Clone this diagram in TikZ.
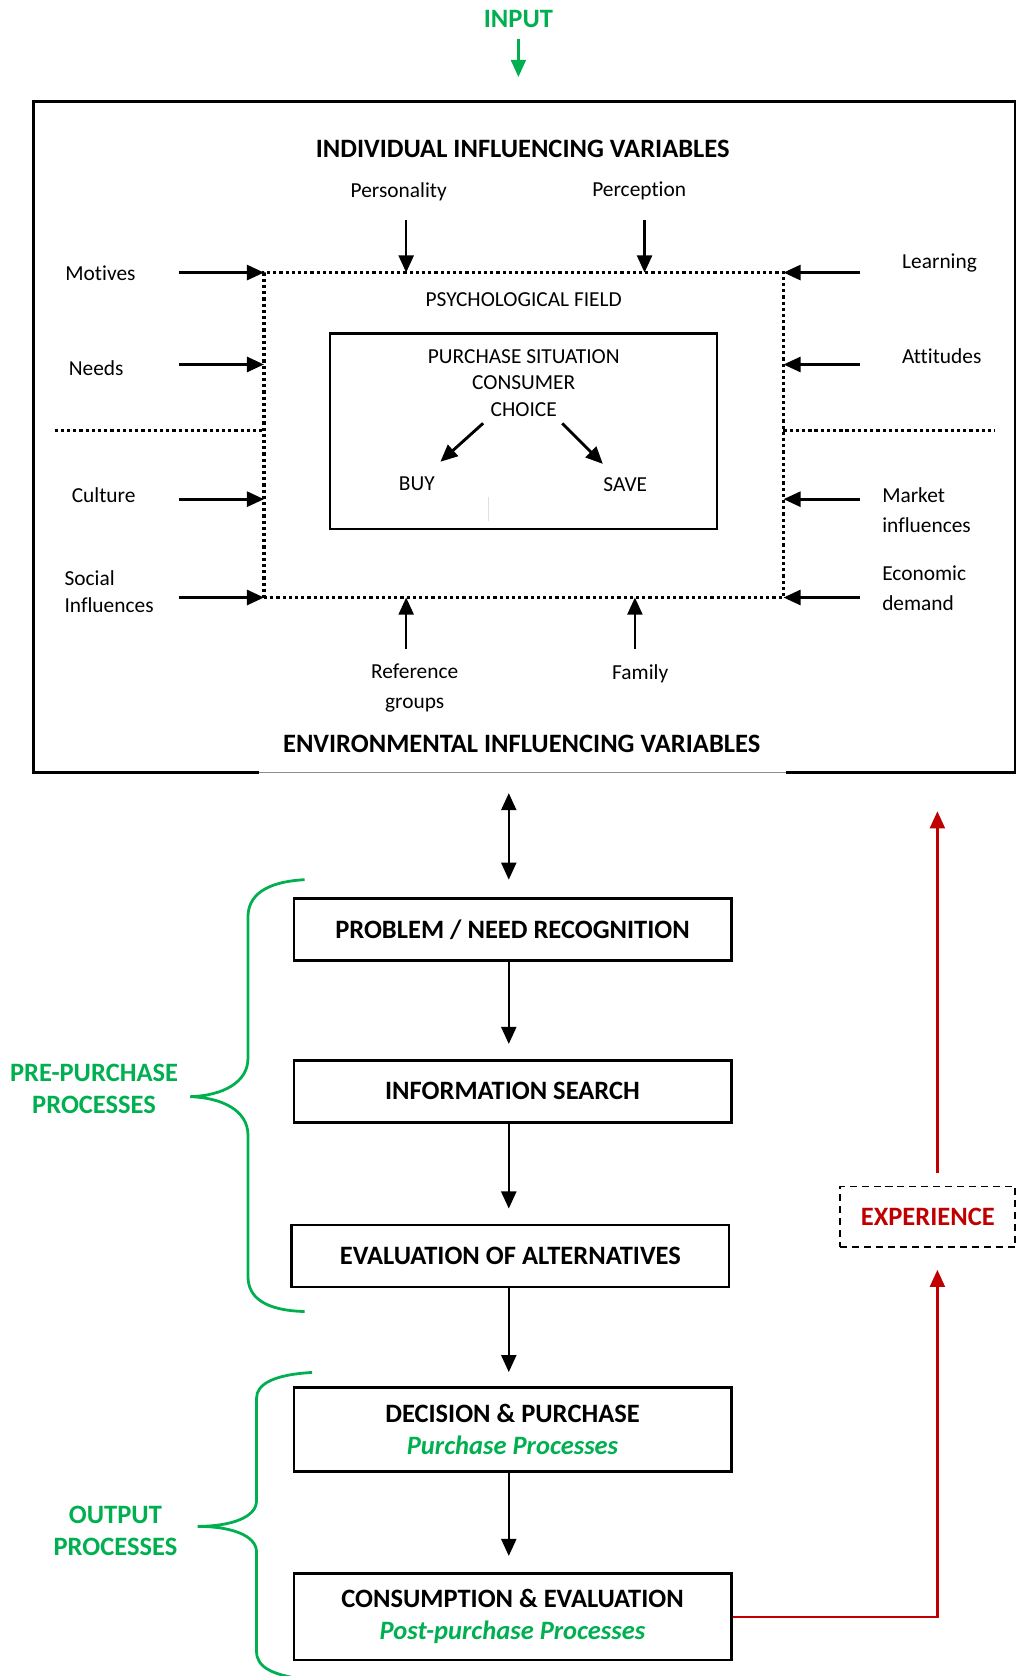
\documentclass[tikz,border=0pt]{standalone}
\usepackage{fontspec}
\setmainfont{Carlito}[Ligatures=NoCommon]
\usetikzlibrary{arrows.meta}
\definecolor{ogreen}{HTML}{00B050}
\definecolor{ored}{HTML}{C00000}
\begin{document}
\begin{tikzpicture}[x=0.5pt,y=-0.5pt,
 every node/.style={inner sep=0pt},
 reg/.style={font=\fontsize{10}{14}\selectfont, align=center},
 regl/.style={font=\fontsize{10}{14}\selectfont, align=left, anchor=west},
 hdr/.style={font=\fontsize{12.4}{15}\selectfont\bfseries, align=center},
 arr/.style={-{Triangle[length=8pt,width=7pt]}, line width=1.1pt},
 sarr/.style={-{Triangle[length=8pt,width=7pt]}, line width=1.35pt},
 darr/.style={{Triangle[length=8pt,width=7pt]}-{Triangle[length=8pt,width=7pt]}, line width=1.1pt},
 dotline/.style={line width=1.6pt, dash pattern=on 1.5pt off 1.4pt},
 procbox/.style={draw, line width=1.3pt, minimum width=204.5pt, font=\fontsize{12.4}{15}\selectfont\bfseries, align=center},
 brace/.style={draw=ogreen, line width=1.3pt},
 expbox/.style={draw, line width=0.9pt, dash pattern=on 3.3pt off 2.3pt, minimum width=82pt, minimum height=28.5pt, text=ored, font=\fontsize{12.4}{15}\selectfont\bfseries}
]
\useasboundingbox (0,0) rectangle (951,1568);
\clip (0,0) rectangle (951,1568);

% INPUT
\node[hdr, text=ogreen] (input) at (485,18) {INPUT};
\coordinate (inputtip) at (485,72);
\draw[arr, color=ogreen, shorten <=5pt] (input.south) -- (inputtip);

% outer box
\draw[line width=1.3pt] (242,723) -- (31,723) -- (31,95) -- (949.5,95) -- (949.5,723) -- (735,723);
\draw[black!45, line width=0.6pt] (242,723) -- (735,723);

\node[hdr] (ind) at (489,139) {INDIVIDUAL INFLUENCING VARIABLES};
\node[hdr] (env) at (488,696) {ENVIRONMENTAL INFLUENCING VARIABLES};

% psychological field (dotted)
\node[draw, dotline, minimum width=243pt, minimum height=152pt] (psy) at (490,407) {};
\node[reg] (pf) at (490,280) {PSYCHOLOGICAL FIELD};

% separators
\coordinate (sepL1) at (51,403); \coordinate (sepL2) at (247,403);
\coordinate (sepR1) at (733,403); \coordinate (sepR2) at (931,403);
\draw[dotline] (sepL1) -- (sepL2);
\draw[dotline] (sepR1) -- (sepR2);

% top labels and arrows
\node[reg] (pers) at (373,179) {Personality};
\node[reg] (perc) at (598,179) {Perception};
\coordinate (persA) at (380,206); \coordinate (persB) at (380,255);
\coordinate (percA) at (603,206); \coordinate (percB) at (603,255);
\draw[arr] (persA) -- (persB);
\draw[arr] (percA) -- (percB);

% bottom labels and arrows
\node[reg] (refg) at (388,644) {Reference\\groups};
\node[reg] (fam) at (599,630) {Family};
\coordinate (refA) at (380,607); \coordinate (refB) at (380,559);
\coordinate (famA) at (594,607); \coordinate (famB) at (594,559);
\draw[arr] (refA) -- (refB);
\draw[arr] (famA) -- (famB);

% left labels and arrows
\node[reg] (mot) at (94,256) {Motives};
\node[reg] (needs) at (90,344) {Needs};
\node[reg] (cult) at (97,463) {Culture};
\node[regl, font=\fontsize{10}{12.5}\selectfont] (soc) at (60,553.5) {Social\\Influences};
\coordinate (motA) at (167,255); \coordinate (motB) at (247,255);
\coordinate (needA) at (167,341); \coordinate (needB) at (247,341);
\coordinate (cultA) at (167,467); \coordinate (cultB) at (247,467);
\coordinate (socA) at (167,559); \coordinate (socB) at (247,559);
\draw[sarr] (motA) -- (motB);
\draw[sarr] (needA) -- (needB);
\draw[sarr] (cultA) -- (cultB);
\draw[sarr] (socA) -- (socB);

% right labels and arrows
\node[reg] (learn) at (879,246) {Learning};
\node[reg] (att) at (881,333) {Attitudes};
\node[regl] (mkt) at (825,477) {Market\\influences};
\node[regl] (eco) at (825,550) {Economic\\demand};
\coordinate (learnA) at (805,255); \coordinate (learnB) at (733,255);
\coordinate (attA) at (805,341); \coordinate (attB) at (733,341);
\coordinate (mktA) at (805,467); \coordinate (mktB) at (733,467);
\coordinate (ecoA) at (805,559); \coordinate (ecoB) at (733,559);
\draw[sarr] (learnA) -- (learnB);
\draw[sarr] (attA) -- (attB);
\draw[sarr] (mktA) -- (mktB);
\draw[sarr] (ecoA) -- (ecoB);

% inner box
\node[draw, line width=1.1pt, minimum width=181pt, minimum height=91.5pt] (inner) at (490,403.5) {};
\node[reg] (ps) at (490,334) {PURCHASE SITUATION};
\node[reg] (cons) at (490,358) {CONSUMER};
\node[reg] (choice) at (490,383) {CHOICE};
\node[reg] (buy) at (390,453) {BUY};
\node[reg] (save) at (585,453) {SAVE};
\coordinate (chL) at (452,396); \coordinate (buyT) at (412,432);
\coordinate (chR) at (526,396); \coordinate (saveT) at (564,434);
\draw[sarr] (chL) -- (buyT);
\draw[sarr] (chR) -- (saveT);
\draw[black!12, line width=0.5pt] (457,465) -- (457,487);

% double arrow
\coordinate (da1) at (476,742); \coordinate (da2) at (476,823);
\draw[darr] (da1) -- (da2);

% process boxes
\node[procbox, minimum height=29pt] (b1) at (479.5,869.5) {PROBLEM / NEED RECOGNITION};
\node[procbox, minimum height=29pt] (b2) at (479.5,1021) {INFORMATION SEARCH};
\node[procbox, minimum height=29pt] (b3) at (477.5,1175) {EVALUATION OF ALTERNATIVES};
\node[procbox, minimum height=39.5pt] (b4) at (479.5,1337.5) {DECISION \& PURCHASE\\{\color{ogreen}\itshape Purchase Processes}};
\node[procbox, minimum height=40.5pt] (b5) at (479.5,1512.5) {CONSUMPTION \& EVALUATION\\{\color{ogreen}\itshape Post-purchase Processes}};

\draw[arr, shorten >=7pt] (b1.south -| da1) -- (b2.north -| da1);
\draw[arr, shorten >=7pt] (b2.south -| da1) -- (b3.north -| da1);
\draw[arr, shorten >=6.5pt] (b3.south -| da1) -- (b4.north -| da1);
\draw[arr, shorten >=7.5pt] (b4.south -| da1) -- (b5.north -| da1);

% experience feedback
\node[expbox] (exp) at (868,1138.5) {EXPERIENCE};
\coordinate (rc) at (877,1188);
\coordinate (ru1) at (877,1097); \coordinate (ru2) at (877,759);
\draw[arr, color=ored] (b5.east) -| (rc);
\draw[arr, color=ored] (ru1) -- (ru2);

% braces
\draw[brace] (285,823) .. controls (248,825) and (232,838) .. (232,858) -- (232,990) .. controls (232,1013) and (208,1025) .. (178,1026) .. controls (208,1027) and (232,1039) .. (232,1062) -- (232,1194) .. controls (232,1214) and (248,1226) .. (285,1227);
\draw[brace] (292,1284) .. controls (256,1286) and (240,1295) .. (240,1308) -- (240,1404) .. controls (240,1420) and (215,1428) .. (185,1428) .. controls (215,1428) and (240,1436) .. (240,1452) -- (240,1545) .. controls (240,1560) and (255,1568) .. (292,1572);

\node[hdr, text=ogreen] (pre) at (88,1019) {PRE-PURCHASE\\PROCESSES};
\node[hdr, text=ogreen] (outp) at (108,1432) {OUTPUT\\PROCESSES};
\end{tikzpicture}
\end{document}
